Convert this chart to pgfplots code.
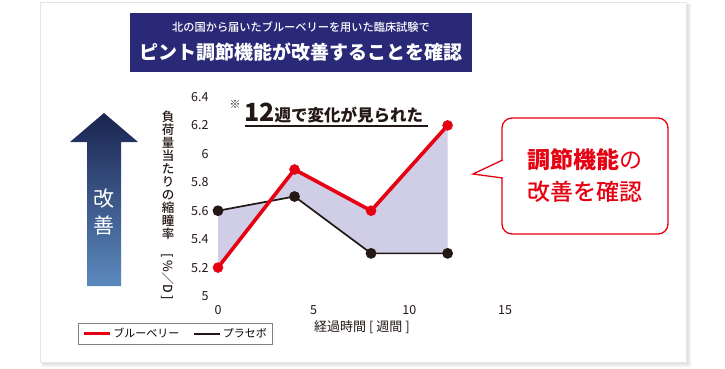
\documentclass[border=0pt]{standalone}
\usepackage{fontspec}
\setmainfont{Noto Sans CJK JP}
\newfontfamily\jpmed{Noto Sans CJK JP Medium}
\usepackage{pgfplots}
\pgfplotsset{compat=1.18}
\usepgfplotslibrary{fillbetween}
\definecolor{bbred}{RGB}{230,0,18}
\definecolor{dk}{RGB}{35,24,21}
\definecolor{lav}{RGB}{208,205,230}
\definecolor{navy}{RGB}{42,41,120}
\definecolor{arrtop}{RGB}{26,35,80}
\definecolor{arrbot}{RGB}{92,138,190}
\begin{document}
\begin{tikzpicture}
\begin{scope}[x=1pt,y=1pt]
\useasboundingbox (0,0) rectangle (725,368);
\fill[white] (0,0) rectangle (725,368);
% card with shadow
\fill[black!5] (42,1) rectangle (691,364);
\fill[black!11] (42,3) rectangle (689,364);
\fill[white,draw=black!10] (40,6) rectangle (686,366);
% banner
\fill[navy] (130,296) rectangle (472,355);
\node[white, font=\fontsize{11.2}{12}\selectfont\jpmed] at (301,341) {北の国から届いたブルーベリーを用いた臨床試験で};
\node[white, font=\fontsize{19}{20}\selectfont\bfseries] at (301,316) {ピント調節機能が改善することを確認};
% arrow
\shade[top color=arrtop, bottom color=arrbot] (104,255) -- (138,226) -- (121,226) -- (121,82) -- (87,82) -- (87,226) -- (70,226) -- cycle;
\node[white, font=\fontsize{21}{22}\selectfont] at (104,169) {改};
\node[white, font=\fontsize{21}{22}\selectfont] at (104,143) {善};
% y label
\node[anchor=north, align=center, font=\fontsize{12.5}{13}\selectfont\jpmed, text=dk, inner sep=0] at (168,257) {負\\荷\\量\\当\\た\\り\\の\\縮\\瞳\\率\\[2pt]\rotatebox{-90}{[\,\%／D\,]}};
\end{scope}
% axis
\begin{axis}[
  at={(218pt,72pt)}, anchor=south west,
  scale only axis, width=287pt, height=199pt,
  xmin=0, xmax=15, ymin=5, ymax=6.4,
  enlargelimits=false, clip=false,
  axis x line=bottom, axis y line=left,
  axis line style={-, line width=1.2pt, color=dk},
  xtick={0,5,10,15},
  ytick={5,5.2,5.4,5.6,5.8,6,6.2,6.4},
  tick align=inside,
  major tick length=3pt,
  xtick style={line width=1pt, color=dk},
  ytick style={draw=none},
  ticklabel style={font=\fontsize{12.5}{13}\selectfont, text=dk},
  /pgf/number format/assume math mode=true,
  yticklabel style={xshift=-6pt},
  xticklabel style={yshift=-6pt},
  legend style={at={(-0.488,-0.136)}, anchor=north west, draw=black!50, line width=0.8pt,
    font=\fontsize{11}{12}\selectfont, inner xsep=4pt, inner ysep=3pt,
    /tikz/every even column/.append style={column sep=12pt}},
  legend columns=2,
  legend image code/.code={\draw[#1] (0pt,0pt) -- (26pt,0pt);},
]
\addplot[draw=none, name path=A, forget plot] coordinates {(0,5.2) (4,5.89) (8,5.6) (12,6.2)};
\addplot[draw=none, name path=B, forget plot] coordinates {(0,5.6) (4,5.7) (8,5.3) (12,5.3)};
\addplot[fill=lav, draw=none, forget plot] fill between[of=A and B, on layer=main];
\addplot[dk, line width=1.7pt, mark=*, mark size=4.5pt, mark options={fill=dk}, forget plot] coordinates {(0,5.6) (4,5.7) (8,5.3) (12,5.3)};
\addplot[bbred, line width=3.6pt, mark=*, mark size=5pt, mark options={fill=bbred, line width=0.5pt}, forget plot] coordinates {(0,5.2) (4,5.89) (8,5.6) (12,6.2)};
\addlegendimage{bbred, line width=3pt}
\addlegendentry{ブルーベリー}
\addlegendimage{dk, line width=1.5pt}
\addlegendentry{プラセボ}
\end{axis}
\begin{scope}[x=1pt,y=1pt]
% x label
\node[font=\fontsize{13}{14}\selectfont, text=dk] at (362,41) {経過時間 [ 週間 ]};
% annotation
\node[font=\fontsize{11}{11}\selectfont, text=dk] at (235,264) {※};
\node[anchor=base west, inner sep=0, text=dk] at (244,247) {{\fontsize{25}{25}\selectfont\bfseries 12}{\fontsize{16.5}{17}\selectfont\bfseries 週で変化が見られた}};
\draw[dk, line width=1.2pt] (245,242) -- (428,242);
% callout
\draw[bbred, line width=1.3pt, fill=white, rounded corners=10pt] (502,134) rectangle (668,250);
\fill[white] (500,190.8) rectangle (504,207.2);
\draw[bbred, line width=1.3pt, line join=miter] (502.65,208) -- (473,194) -- (502.65,190);
\node[text=bbred, font=\fontsize{23}{24}\selectfont] at (585,208) {\textbf{調節機能}の};
\node[text=bbred, font=\fontsize{23}{24}\selectfont\jpmed] at (585,176) {改善を確認};
\end{scope}
\end{tikzpicture}
\end{document}
